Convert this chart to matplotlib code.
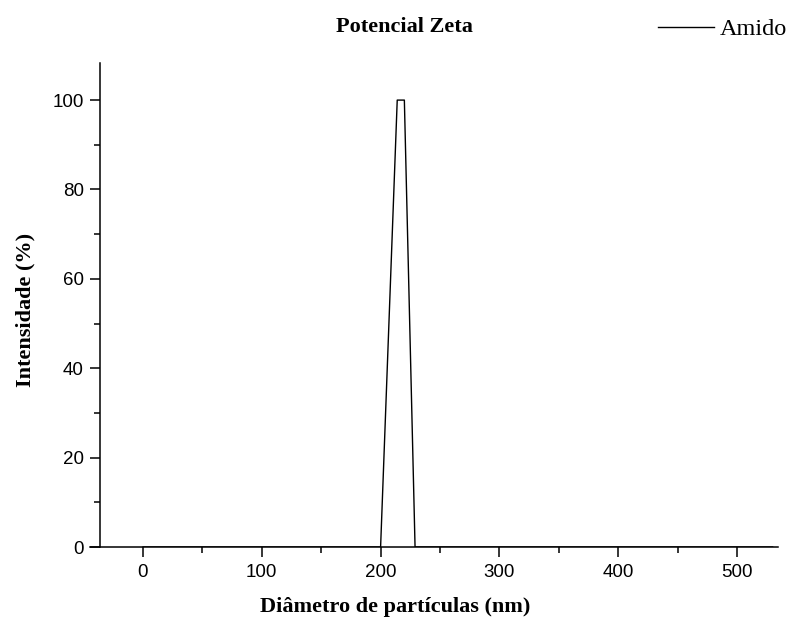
import matplotlib
matplotlib.use("Agg")
import matplotlib.pyplot as plt
from matplotlib.ticker import MultipleLocator

# Data
diametro_nm = [0, 200, 214, 220, 229, 530]
intensidade = [0, 0, 100, 100, 0, 0]
serie_nome = "Amido"
titulo = "Potencial Zeta"
xlabel = "Diâmetro de partículas (nm)"
ylabel = "Intensidade (%)"
x_ticks = [0, 100, 200, 300, 400, 500]
y_ticks = [0, 20, 40, 60, 80, 100]

fig = plt.figure(figsize=(7.88, 6.24), dpi=100)
ax = fig.add_axes([90/788, 1-547/624, 688/788, (547-63)/624])

ax.plot(diametro_nm, intensidade, color="black", lw=1.0, label=serie_nome)

ax.set_xlim(-44.6, 534.5)
ax.set_ylim(0, 108.3)
ax.spines["top"].set_visible(False)
ax.spines["right"].set_visible(False)
ax.spines["left"].set_position(("data", -35.8))
for s in ("left", "bottom"):
    ax.spines[s].set_linewidth(1.1)

ax.set_xticks(x_ticks)
ax.set_yticks(y_ticks)
ax.xaxis.set_minor_locator(MultipleLocator(50))
ax.yaxis.set_minor_locator(MultipleLocator(10))
ax.tick_params(which="major", direction="out", length=7, width=1.1, labelsize=13.5, pad=5)
ax.tick_params(which="minor", direction="out", length=4, width=1.1)
for lab in ax.get_xticklabels() + ax.get_yticklabels():
    lab.set_fontfamily("Liberation Sans")

fig.text(395/788, 1-607/624, xlabel, ha="center", va="center",
         fontfamily="Liberation Serif", fontweight="bold", fontsize=16)
fig.text(25/788, 1-310/624, ylabel, ha="center", va="center", rotation=90,
         fontfamily="Liberation Serif", fontweight="bold", fontsize=16)
fig.text(404/788, 1-27/624, titulo, ha="center", va="center",
         fontfamily="Liberation Serif", fontweight="bold", fontsize=16)

leg = ax.legend(loc="center right", bbox_to_anchor=(787/788, 1-29/624),
                bbox_transform=fig.transFigure, frameon=False,
                prop={"family": "Liberation Serif", "size": 17.5},
                handlelength=2.3, handletextpad=0.25, borderaxespad=0, borderpad=0)

fig.savefig("out.png", dpi=100)
